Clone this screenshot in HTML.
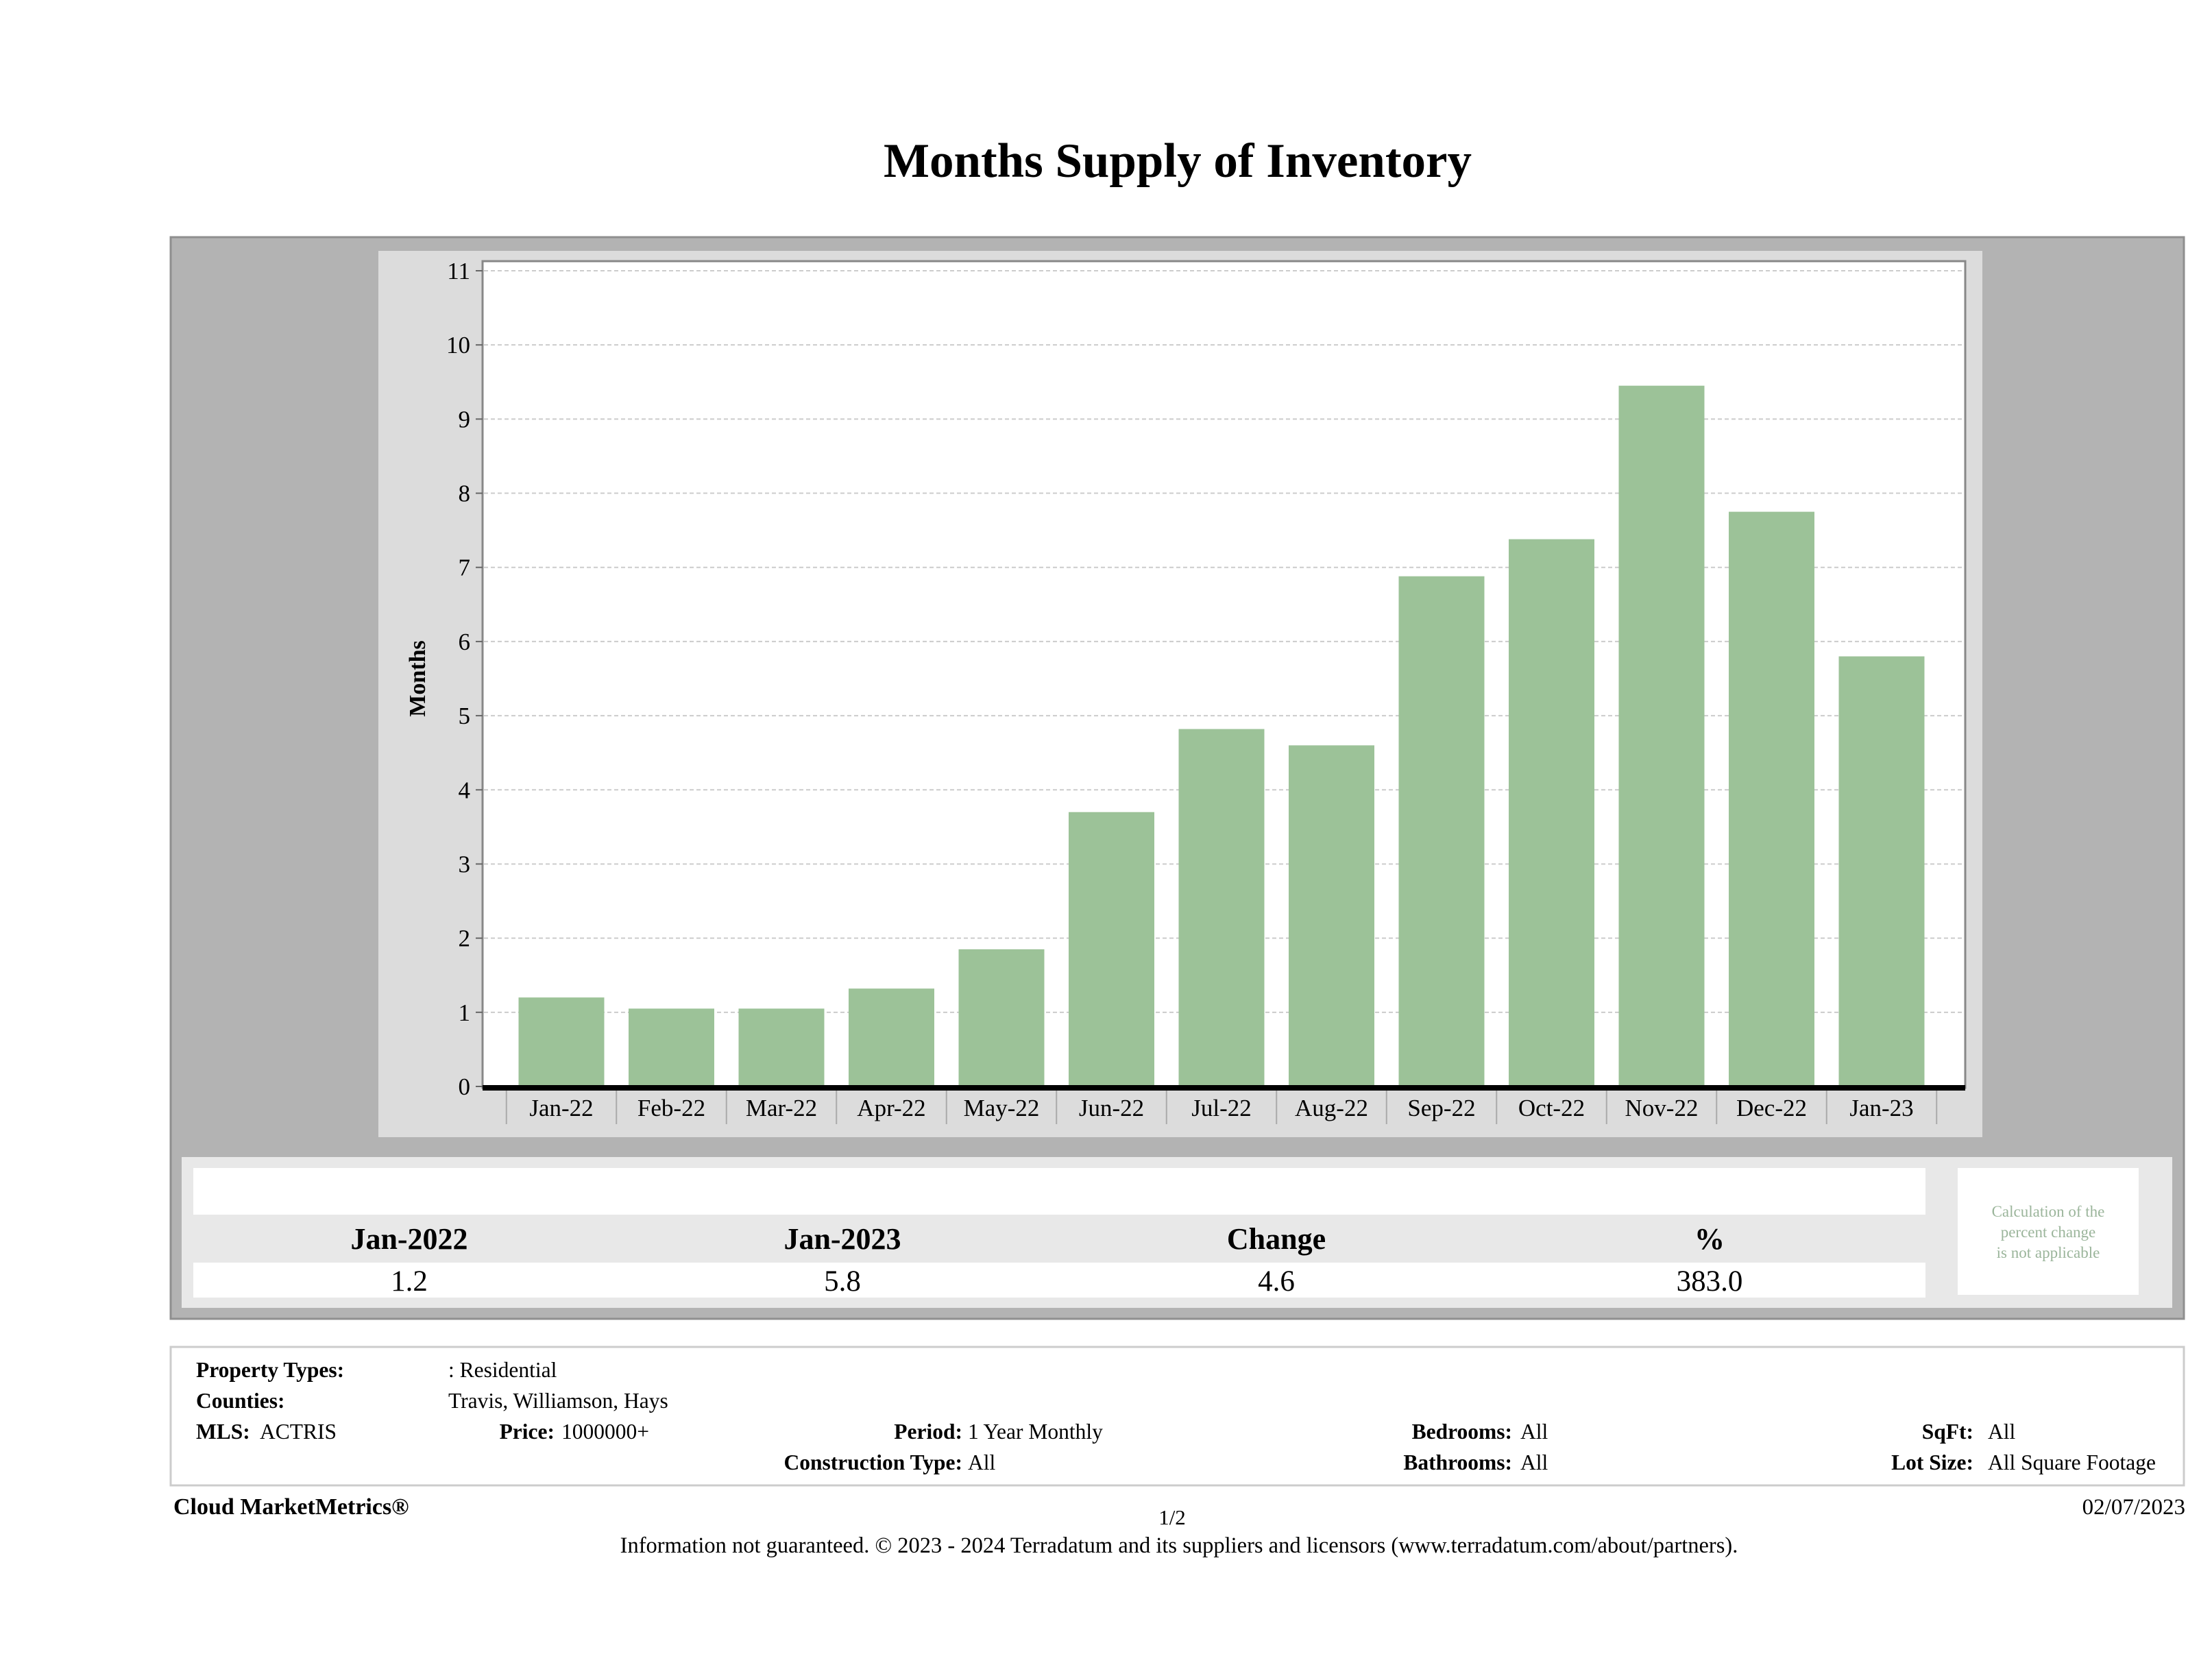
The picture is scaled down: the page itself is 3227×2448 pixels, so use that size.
<!DOCTYPE html>
<html><head><meta charset="utf-8"><style>
html,body{margin:0;padding:0;background:#fff;}
svg{display:block;font-family:"Liberation Serif",serif;}
</style></head><body>
<svg width="3227" height="2448" viewBox="0 0 3227 2448">
<text x="1718" y="258" text-anchor="middle" font-size="71" font-weight="bold">Months Supply of Inventory</text>
<rect x="249" y="346" width="2937" height="1578" fill="#b3b3b3" stroke="#8f8f8f" stroke-width="3"/>
<rect x="552" y="366" width="2340" height="1293" fill="#dcdcdc"/>
<rect x="704" y="381" width="2163" height="1206" fill="#fff" stroke="#888" stroke-width="3"/>
<g id="grid"></g>
<g id="yticks"></g>
<g id="bars"></g>
<g id="xticks"></g>
<text transform="translate(620 990) rotate(-90)" text-anchor="middle" font-size="34" font-weight="bold">Months</text>

<rect x="265" y="1688" width="2904" height="220" fill="#e8e8e8"/>
<rect x="282" y="1704" width="2527" height="68" fill="#fff"/>
<rect x="282" y="1842" width="2527" height="51" fill="#fff"/>
<g font-size="44" font-weight="bold" text-anchor="middle">
<text x="597" y="1822">Jan-2022</text><text x="1229" y="1822">Jan-2023</text><text x="1862" y="1822">Change</text><text x="2494" y="1822">%</text></g>
<g font-size="43" text-anchor="middle">
<text x="597" y="1883">1.2</text><text x="1229" y="1883">5.8</text><text x="1862" y="1883">4.6</text><text x="2494" y="1883">383.0</text></g>
<rect x="2856" y="1704" width="264" height="185" fill="#fff"/>
<g font-size="23" fill="#9bb59b" text-anchor="middle">
<text x="2988" y="1775">Calculation of the</text><text x="2988" y="1805">percent change</text><text x="2988" y="1835">is not applicable</text></g>

<rect x="249" y="1965" width="2937" height="202" fill="#fff" stroke="#ccc" stroke-width="3"/>
<g font-size="31.5">
<text x="286" y="2009" font-weight="bold">Property Types:</text><text x="654" y="2009">: Residential</text>
<text x="286" y="2054" font-weight="bold">Counties:</text><text x="654" y="2054">Travis, Williamson, Hays</text>
<text x="286" y="2099" font-weight="bold">MLS:</text><text x="379" y="2099">ACTRIS</text>
<text x="809" y="2099" font-weight="bold" text-anchor="end">Price:</text><text x="819" y="2099">1000000+</text>
<text x="1404" y="2099" font-weight="bold" text-anchor="end">Period:</text><text x="1412" y="2099">1 Year Monthly</text>
<text x="2206" y="2099" font-weight="bold" text-anchor="end">Bedrooms:</text><text x="2218" y="2099">All</text>
<text x="2879" y="2099" font-weight="bold" text-anchor="end">SqFt:</text><text x="2900" y="2099">All</text>
<text x="1404" y="2144" font-weight="bold" text-anchor="end">Construction Type:</text><text x="1412" y="2144">All</text>
<text x="2206" y="2144" font-weight="bold" text-anchor="end">Bathrooms:</text><text x="2218" y="2144">All</text>
<text x="2879" y="2144" font-weight="bold" text-anchor="end">Lot Size:</text><text x="2900" y="2144">All Square Footage</text>
</g>
<text x="253" y="2209" font-size="34" font-weight="bold">Cloud MarketMetrics®</text>
<text x="1710" y="2224" font-size="31" text-anchor="middle">1/2</text>
<text x="3188" y="2209" font-size="33" text-anchor="end">02/07/2023</text>
<text x="1720" y="2265" font-size="32.5" text-anchor="middle">Information not guaranteed. © 2023 - 2024 Terradatum and its suppliers and licensors (www.terradatum.com/about/partners).</text>
</svg>
<script>
const categories=["Jan-22","Feb-22","Mar-22","Apr-22","May-22","Jun-22","Jul-22","Aug-22","Sep-22","Oct-22","Nov-22","Dec-22","Jan-23"];
const values=[1.2,1.05,1.05,1.32,1.85,3.7,4.82,4.6,6.88,7.38,9.45,7.75,5.8];
const yTicks=[0,1,2,3,4,5,6,7,8,9,10,11];
const NS="http://www.w3.org/2000/svg";
const y0=1585,yTop=395,yMax=11;
const yS=v=>y0-(v/yMax)*(y0-yTop);
const xStart=819,xEnd=2745;
const step=(xEnd-xStart)/(categories.length-1);
const xS=i=>xStart+i*step;
const bw=125;
function mk(t,a,p){const e=document.createElementNS(NS,t);for(const k in a)e.setAttribute(k,a[k]);p.appendChild(e);return e;}
const grid=document.getElementById('grid'),yt=document.getElementById('yticks'),bars=document.getElementById('bars'),xt=document.getElementById('xticks');
yTicks.forEach(v=>{
 const y=yS(v);
 if(v>0){const g=mk('line',{x1:706,x2:2865,y1:y,y2:y,stroke:'#ccc','stroke-width':2,'stroke-dasharray':'6,4'},grid);
 
 }
 const tk=mk('line',{x1:694,x2:704,y1:y,y2:y,stroke:'#666','stroke-width':2},yt);
 
 
 const t=mk('text',{x:686,y:y+12,'text-anchor':'end','font-size':35},yt);t.textContent=v;
 
 
});
values.forEach((v,i)=>{
 const r=mk('rect',{x:xS(i)-bw/2,y:yS(v),width:bw,height:y0-yS(v),fill:'#9cc298'},bars);
 
 
});
const base=mk('line',{x1:704,x2:2867,y1:1587,y2:1587,stroke:'#000','stroke-width':8},xt);


for(let i=0;i<=categories.length;i++){
 const x=xS(i)-step/2;
 const l=mk('line',{x1:x,x2:x,y1:1591,y2:1640,stroke:'#aaa','stroke-width':2},xt);
 
 
}
categories.forEach((c,i)=>{
 const t=mk('text',{x:xS(i),y:1628,'text-anchor':'middle','font-size':35},xt);t.textContent=c;
 
 
});
</script>
</body></html>
